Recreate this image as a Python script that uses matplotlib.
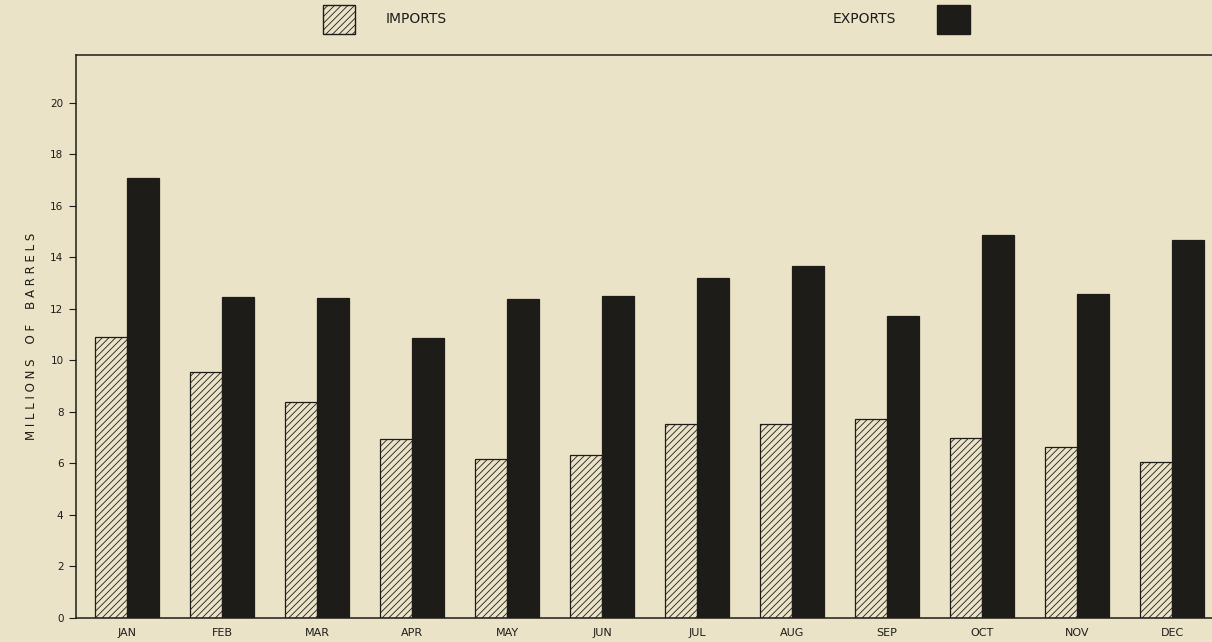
import matplotlib as mpl
import matplotlib.pyplot as plt
import numpy as np

# monthly petroleum trade, millions of barrels
months = ['JAN', 'FEB', 'MAR', 'APR', 'MAY', 'JUN',
          'JUL', 'AUG', 'SEP', 'OCT', 'NOV', 'DEC']
imports = [10.9, 9.55, 8.4, 6.95, 6.17, 6.33, 7.53, 7.53, 7.73, 6.99, 6.64, 6.06]
exports = [17.09, 12.47, 12.43, 10.87, 12.39, 12.5, 13.2, 13.67, 11.73, 14.87, 12.58, 14.68]
y_ticks = [0, 2, 4, 6, 8, 10, 12, 14, 16, 18, 20]

paper = '#ebe3c8'
ink = '#1e1c19'

mpl.rcParams['font.family'] = ['DejaVu Sans']
mpl.rcParams['hatch.linewidth'] = 0.6
mpl.rcParams['hatch.color'] = '#3a3731'

fig = plt.figure(figsize=(12.12, 6.42), dpi=100, facecolor=paper)
ax = fig.add_axes([76 / 1212, 1 - 618 / 642, (1212 - 76) / 1212, (618 - 55) / 642])
ax.set_facecolor(paper)

x = np.arange(len(months))
w = 0.337
ax.bar(x - w / 2, imports, w, facecolor=paper, edgecolor=ink, linewidth=0.9, hatch='/////')
ax.bar(x + w / 2, exports, w, facecolor=ink, edgecolor=ink, linewidth=0.9)

ax.set_xlim(-0.54, 11.42)
ax.set_ylim(0, 21.86)
ax.set_yticks(y_ticks)
ax.set_yticklabels([str(t) for t in y_ticks], fontsize=7.5, color=ink)
ax.set_xticks(x)
ax.set_xticklabels(months, fontsize=8, color=ink)
ax.tick_params(axis='x', length=0, pad=7)
ax.tick_params(axis='y', length=5, width=0.8, color=ink, pad=4)

for s in ['left', 'top', 'bottom']:
    ax.spines[s].set_color(ink)
    ax.spines[s].set_linewidth(1.1)
ax.spines['right'].set_visible(False)

ax.set_ylabel('M I L L I O N S    O F    B A R R E L S', fontsize=8.5, color=ink)
ax.yaxis.set_label_coords(-0.0335, 0.5)

# legend drawn at the top like the original plate
fig.patches.append(mpl.patches.Rectangle((323 / 1212, 1 - 34 / 642), 32 / 1212, 29 / 642,
                                         transform=fig.transFigure, facecolor=paper,
                                         edgecolor=ink, linewidth=1.0, hatch='/////'))
fig.text(386 / 1212, 1 - 19 / 642, 'IMPORTS', fontsize=10, color=ink, va='center')
fig.text(833 / 1212, 1 - 19 / 642, 'EXPORTS', fontsize=10, color=ink, va='center')
fig.patches.append(mpl.patches.Rectangle((937 / 1212, 1 - 34 / 642), 33 / 1212, 29 / 642,
                                         transform=fig.transFigure, facecolor=ink,
                                         edgecolor=ink, linewidth=1.0))

fig.savefig('out.png', dpi=100, facecolor=paper)
